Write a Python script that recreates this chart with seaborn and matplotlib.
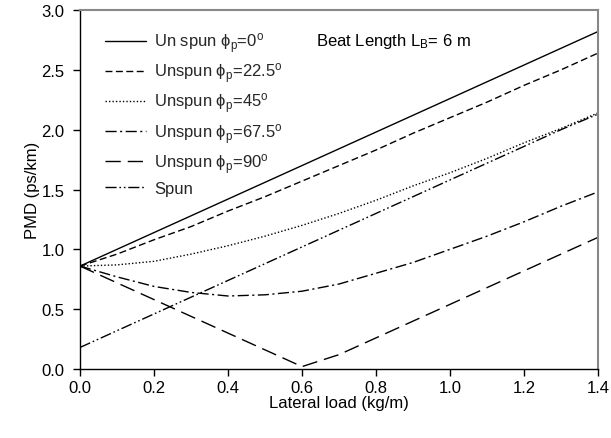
import matplotlib
matplotlib.use("Agg")
import matplotlib.pyplot as plt
import seaborn as sns
import pandas as pd

sns.set_theme(style="ticks")
plt.rcParams['font.family'] = ['Liberation Sans', 'DejaVu Sans']
plt.rcParams['mathtext.fontset'] = 'custom'
plt.rcParams['mathtext.rm'] = 'Liberation Sans'
plt.rcParams['mathtext.it'] = 'Liberation Sans:italic'

load = [0.0, 0.1, 0.2, 0.3, 0.4, 0.5, 0.6, 0.7, 0.8, 0.9, 1.0, 1.1, 1.2, 1.3, 1.4]
pmd_0 = [0.86, 1.00, 1.14, 1.28, 1.42, 1.56, 1.70, 1.84, 1.98, 2.12, 2.26, 2.40, 2.54, 2.68, 2.82]
pmd_22 = [0.86, 0.96, 1.08, 1.19, 1.32, 1.44, 1.57, 1.70, 1.83, 1.97, 2.10, 2.23, 2.37, 2.50, 2.64]
pmd_45 = [0.86, 0.87, 0.90, 0.96, 1.03, 1.11, 1.20, 1.30, 1.41, 1.53, 1.64, 1.76, 1.89, 2.01, 2.14]
pmd_67 = [0.86, 0.77, 0.69, 0.64, 0.61, 0.62, 0.65, 0.71, 0.80, 0.89, 1.00, 1.11, 1.23, 1.36, 1.48]
pmd_90 = [0.86, 0.72, 0.58, 0.44, 0.30, 0.16, 0.02, 0.12, 0.26, 0.40, 0.54, 0.68, 0.82, 0.96, 1.10]
pmd_spun = [0.18, 0.32, 0.46, 0.60, 0.74, 0.88, 1.02, 1.16, 1.30, 1.44, 1.58, 1.72, 1.86, 2.00, 2.13]

labels = [
    "Un spun ϕ$_\\mathregular{p}$=0$^\\mathregular{o}$",
    "Unspun ϕ$_\\mathregular{p}$=22.5$^\\mathregular{o}$",
    "Unspun ϕ$_\\mathregular{p}$=45$^\\mathregular{o}$",
    "Unspun ϕ$_\\mathregular{p}$=67.5$^\\mathregular{o}$",
    "Unspun ϕ$_\\mathregular{p}$=90$^\\mathregular{o}$",
    "Spun",
]
series = [pmd_0, pmd_22, pmd_45, pmd_67, pmd_90, pmd_spun]
styles = ['-', (0, (5, 2.5)), (0, (1, 1.5)), (0, (8, 2.5, 1.5, 2.5)), (0, (11, 5)), (0, (8, 2, 1.2, 2, 1.2, 2))]

FS = 12

fig = plt.figure(figsize=(6.11, 4.39), dpi=100)
ax = fig.add_axes([80/611, 1-370/439, (598-80)/611, (370-11)/439])

for lab, vals, ls in zip(labels, series, styles):
    df = pd.DataFrame({"x": load, "y": vals})
    sns.lineplot(data=df, x="x", y="y", ax=ax, color="black", linewidth=1.0,
                 linestyle=ls, label=lab)

ax.set_xlim(0, 1.4)
ax.set_ylim(0, 3.0)
ax.set_xticks([0.0, 0.2, 0.4, 0.6, 0.8, 1.0, 1.2, 1.4])
ax.set_yticks([0.0, 0.5, 1.0, 1.5, 2.0, 2.5, 3.0])
ax.set_xticklabels(["0.0", "0.2", "0.4", "0.6", "0.8", "1.0", "1.2", "1.4"])
ax.set_yticklabels(["0.0", "0.5", "1.0", "1.5", "2.0", "2.5", "3.0"])
ax.tick_params(axis='both', direction='out', length=5, width=1, color='black',
               labelsize=FS, labelcolor='black')
ax.tick_params(axis='y', pad=6)
ax.tick_params(axis='x', pad=3)
ax.set_xlabel("Lateral load (kg/m)", fontsize=FS, color='black', labelpad=0)
ax.set_ylabel("PMD (ps/km)", fontsize=FS, color='black', labelpad=1.5)

for s in ['left', 'bottom']:
    ax.spines[s].set_color('black')
    ax.spines[s].set_linewidth(1.0)
for s in ['top', 'right']:
    ax.spines[s].set_visible(True)
    ax.spines[s].set_color('#888888')
    ax.spines[s].set_linewidth(1.5)

leg = ax.legend(loc='upper left', bbox_to_anchor=(0.025, 0.975), frameon=False,
                fontsize=FS, handlelength=2.5, handletextpad=0.45,
                labelspacing=0.33, borderaxespad=0.3)

ax.text(0.455, 0.916, "Beat Length L$_\\mathregular{B}$= 6 m", transform=ax.transAxes,
        fontsize=FS, color='black', va='center', ha='left')

fig.savefig("out.png", dpi=100)
